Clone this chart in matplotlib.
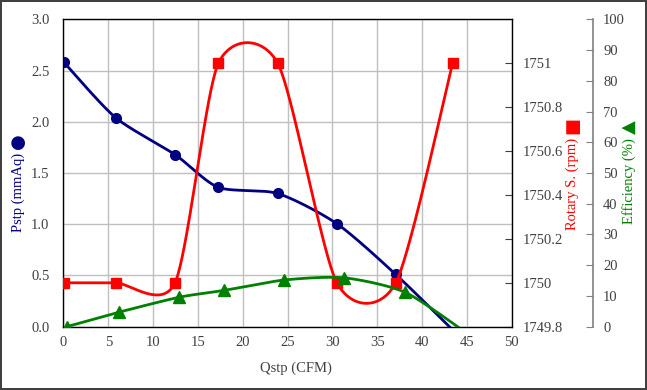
import numpy as np
import matplotlib.pyplot as plt
from matplotlib.ticker import FuncFormatter, MultipleLocator

# ---- data ----
q_p = [0.05, 5.82, 12.44, 17.28, 23.9, 30.5, 37.07, 43.4]
pstp = [2.58, 2.04, 1.68, 1.36, 1.30, 1.005, 0.51, -0.03]

q_rpm = [0.05, 5.82, 12.44, 17.28, 23.9, 30.5, 37.07, 43.4]
rpm = [1750, 1750, 1750, 1751, 1751, 1750, 1750, 1751]

q_eff = [0.35, 6.16, 12.93, 17.88, 24.65, 31.34, 38.1, 44.6]
eff = [0.0, 4.7, 9.6, 11.8, 15.2, 15.9, 11.2, -1.3]

x_ticks = np.arange(0, 51, 5)
rpm_ticks = [1749.8, 1750.0, 1750.2, 1750.4, 1750.6, 1750.8, 1751.0]

FONT = ['Liberation Serif', 'DejaVu Sans']
TXT = '#404040'
FS = 10.5


def smooth(x, y, k=0.125, n=40):
    """Excel-like smoothed line: cubic Bezier through the points."""
    x = np.asarray(x, float)
    y = np.asarray(y, float)
    px = np.concatenate([[x[0]], x, [x[-1]]])
    py = np.concatenate([[y[0]], y, [y[-1]]])
    xs, ys = [], []
    t = np.linspace(0, 1, n)
    for i in range(1, len(x)):
        p0 = np.array([px[i], py[i]])
        p1 = np.array([px[i + 1], py[i + 1]])
        c0 = p0 + k * (np.array([px[i + 1], py[i + 1]]) - np.array([px[i - 1], py[i - 1]]))
        c1 = p1 - k * (np.array([px[i + 2], py[i + 2]]) - np.array([px[i], py[i]]))
        b = ((1 - t) ** 3)[:, None] * p0 + (3 * (1 - t) ** 2 * t)[:, None] * c0 \
            + (3 * (1 - t) * t ** 2)[:, None] * c1 + (t ** 3)[:, None] * p1
        xs.append(b[:, 0])
        ys.append(b[:, 1])
    return np.concatenate(xs), np.concatenate(ys)


plt.rcParams['font.family'] = FONT

fig = plt.figure(figsize=(6.47, 3.90), dpi=100)
fig.patch.set_edgecolor('#404040')
fig.patch.set_linewidth(1.5)

ax = fig.add_axes([0.0981, 0.1623, 0.6928, 0.7882])
ax2 = ax.twinx()
ax3 = ax.twinx()

# grid
ax.set_xlim(0, 50)
ax.set_ylim(0, 3.0)
ax.set_xticks(x_ticks)
ax.yaxis.set_major_locator(MultipleLocator(0.5))
ax.grid(True, color='#bfbfbf', linewidth=1.0)
ax.set_axisbelow(True)
ax.yaxis.set_major_formatter(FuncFormatter(lambda v, p: f"{v:.1f}"))
ax.tick_params(axis='y', length=0, labelsize=FS, labelcolor=TXT, pad=10)
ax.tick_params(axis='x', length=0, labelsize=FS, labelcolor=TXT, pad=7)
for s in ax.spines.values():
    s.set_color('#404040')
    s.set_linewidth(1.0)

ax2.set_ylim(1749.8, 1751.2)
ax2.set_yticks(rpm_ticks)
ax2.yaxis.set_major_formatter(FuncFormatter(lambda v, p: f"{round(v, 1):g}"))
ax2.tick_params(direction='in', length=5, color='#404040', labelsize=FS,
                labelcolor=TXT, pad=8)

ax3.set_ylim(0, 100)
ax3.yaxis.set_major_locator(MultipleLocator(10))
ax3.spines['right'].set_position(('outward', 81 * 0.72))
ax3.spines['right'].set_color('#808080')
ax3.spines['right'].set_linewidth(1.2)
for side in ['left', 'top', 'bottom']:
    ax3.spines[side].set_visible(False)
ax3.tick_params(direction='in', length=5, color='#808080', labelsize=FS,
                labelcolor=TXT, pad=7.5)

# series
sx, sy = smooth(q_p, pstp)
ax.plot(sx, sy, color='#000080', linewidth=2, zorder=3)
ax.plot(q_p[:-1], pstp[:-1], 'o', color='#000080', markersize=7, zorder=4)

sx, sy = smooth(q_rpm, rpm)
ax2.plot(sx, sy, color='#ff0000', linewidth=2, zorder=3)
ax2.plot(q_rpm, rpm, 's', color='#ff0000', markersize=7.5, zorder=4)

sx, sy = smooth(q_eff, eff)
ax3.plot(sx, sy, color='#008000', linewidth=2, zorder=3)
ax3.plot(q_eff[:-1], eff[:-1], '^', color='#008000', markersize=8, zorder=4)

# axis titles
W, H = 647.0, 390.0
fig.text(296 / W, 1 - 368 / H, 'Qstp (CFM)', ha='center', va='center',
         fontsize=FS, color=TXT)
fig.text(18 / W, 1 - 192 / H, 'Pstp (mmAq)', rotation=90, ha='center',
         va='center', fontsize=FS, color='#000080')
fig.text(18 / W, 1 - 141 / H, '\u25cf', rotation=90, ha='center',
         va='center', fontsize=13, color='#000080', family=['DejaVu Sans'])
fig.text(572 / W, 1 - 184 / H, 'Rotary S. (rpm)', rotation=90, ha='center',
         va='center', fontsize=FS, color='#ff0000')
fig.text(572 / W, 1 - 126 / H, '\u25a0', rotation=90, ha='center',
         va='center', fontsize=13, color='#ff0000', family=['DejaVu Sans'])
fig.text(629 / W, 1 - 181 / H, 'Efficiency (%)', rotation=90, ha='center',
         va='center', fontsize=FS, color='#008000')
fig.text(629 / W, 1 - 127 / H, '\u25b2', rotation=90, ha='center',
         va='center', fontsize=13, color='#008000', family=['DejaVu Sans'])

fig.savefig('out.png', dpi=100)
